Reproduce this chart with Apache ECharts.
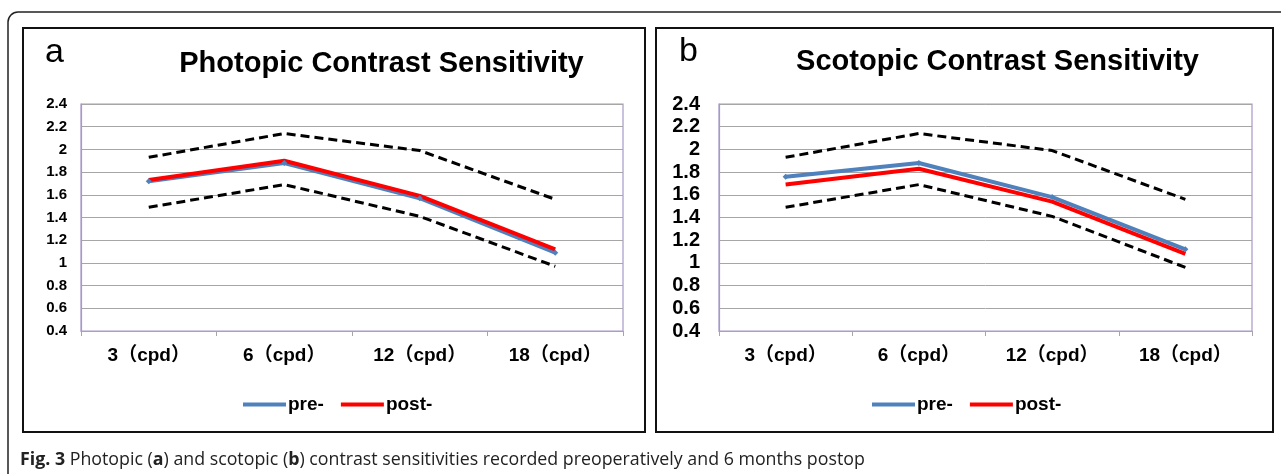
<!DOCTYPE html>
<html>
<head>
<meta charset="utf-8">
<script src="https://cdn.jsdelivr.net/npm/echarts@6/dist/echarts.min.js"></script>
<style>
html,body{margin:0;padding:0;background:#fff;}
#c{width:1281px;height:474px;}
</style>
</head>
<body>
<div id="c"></div>
<script>
var categories = ['3（cpd）', '6（cpd）', '12（cpd）', '18（cpd）'];
var yTicks = { min: 0.4, max: 2.4, step: 0.2 };

var photopicPre = [1.72, 1.88, 1.57, 1.09];
var photopicPost = [1.73, 1.90, 1.59, 1.12];
var photopicUpper = [1.93, 2.14, 1.99, 1.56];
var photopicLower = [1.49, 1.69, 1.41, 0.97];

var scotopicPre = [1.76, 1.88, 1.58, 1.12];
var scotopicPost = [1.69, 1.83, 1.54, 1.08];
var scotopicUpper = [1.93, 2.14, 1.99, 1.56];
var scotopicLower = [1.49, 1.69, 1.41, 0.96];

var titles = ['Photopic Contrast Sensitivity', 'Scotopic Contrast Sensitivity'];
var panelLetters = ['a', 'b'];
var legendNames = ['pre-', 'post-'];

var BLUE = '#4F81BD', RED = '#FF0000', PURPLE = '#A898C8', GRIDC = '#A6A6A6';
var SANS = '"Liberation Sans", Arial, "Noto Sans CJK SC", sans-serif';

function xAxisCfg(gi) {
  return {
    type: 'category', gridIndex: gi, data: categories, boundaryGap: true,
    axisLine: { show: true, lineStyle: { color: GRIDC, width: 1 } },
    axisTick: { show: true, length: 5, lineStyle: { color: GRIDC } },
    axisLabel: { margin: 15, color: '#000', fontWeight: 'bold', fontSize: 19, fontFamily: SANS }
  };
}
function yAxisCfg(gi, fs, margin) {
  return {
    type: 'value', gridIndex: gi, min: yTicks.min, max: yTicks.max, interval: yTicks.step,
    axisLine: { show: true, lineStyle: { color: PURPLE, width: 1.2 } },
    axisTick: { show: false },
    splitLine: { show: true, lineStyle: { color: GRIDC, width: 1 } },
    axisLabel: { margin: margin, color: '#000', fontWeight: 'bold', fontSize: fs, fontFamily: SANS,
      formatter: function (v) { return String(Math.round(v * 10) / 10); } }
  };
}
function dashed(name, data, gi) {
  return { name: name, type: 'line', xAxisIndex: gi, yAxisIndex: gi, data: data, symbol: 'none',
    lineStyle: { color: '#000', width: 3, type: [9, 5] }, z: 2, silent: true };
}
function solid(name, data, gi, color, sym) {
  return { name: name, type: 'line', xAxisIndex: gi, yAxisIndex: gi, data: data,
    symbol: sym ? 'diamond' : 'none', symbolSize: 6, showSymbol: !!sym,
    itemStyle: { color: color }, lineStyle: { color: color, width: 4 }, z: 3 };
}
function legendCfg(left) {
  return {
    data: legendNames, left: left, top: 390, icon: 'rect', itemWidth: 43, itemHeight: 4, itemGap: 17,
    textStyle: { color: '#000', fontWeight: 'bold', fontSize: 19, fontFamily: SANS, padding: [0, 0, 0, -3] }
  };
}

var chart = echarts.init(document.getElementById('c'), null, { renderer: 'canvas' });
chart.setOption({
  animation: false,
  backgroundColor: '#fff',
  grid: [
    { left: 81, top: 104, width: 542, height: 227, show: true, borderColor: PURPLE, borderWidth: 1.2, backgroundColor: 'transparent' },
    { left: 719, top: 104, width: 533, height: 227, show: true, borderColor: PURPLE, borderWidth: 1.2, backgroundColor: 'transparent' }
  ],
  xAxis: [xAxisCfg(0), xAxisCfg(1)],
  yAxis: [yAxisCfg(0, 15, 14), yAxisCfg(1, 20, 19)],
  legend: [legendCfg(238), legendCfg(867)],
  series: [
    dashed('upperA', photopicUpper, 0), dashed('lowerA', photopicLower, 0),
    solid(legendNames[0], photopicPre, 0, BLUE, true), solid(legendNames[1], photopicPost, 0, RED, false),
    dashed('upperB', scotopicUpper, 1), dashed('lowerB', scotopicLower, 1),
    solid(legendNames[0], scotopicPre, 1, BLUE, true), solid(legendNames[1], scotopicPost, 1, RED, false)
  ],
  graphic: [
    { type: 'rect', shape: { x: 8, y: 12, width: 1320, height: 520, r: 10 }, style: { fill: 'none', stroke: '#222', lineWidth: 1.5 }, z: 0, silent: true },
    { type: 'rect', shape: { x: 23, y: 28, width: 622, height: 404 }, style: { fill: 'none', stroke: '#111', lineWidth: 2 }, z: 0, silent: true },
    { type: 'rect', shape: { x: 656, y: 28, width: 617, height: 404 }, style: { fill: 'none', stroke: '#111', lineWidth: 2 }, z: 0, silent: true },
    { type: 'text', x: 45, y: 53, style: { text: panelLetters[0], font: 'normal 34px "Liberation Sans", Arial, sans-serif', fill: '#000', verticalAlign: 'middle' }, silent: true },
    { type: 'text', x: 679, y: 52, style: { text: panelLetters[1], font: 'normal 34px "Liberation Sans", Arial, sans-serif', fill: '#000', verticalAlign: 'middle' }, silent: true },
    { type: 'text', x: 381.5, y: 64, style: { text: titles[0], font: 'bold 29px "Liberation Sans", Arial, sans-serif', fill: '#000', align: 'center', verticalAlign: 'middle' }, silent: true },
    { type: 'text', x: 997.5, y: 62, style: { text: titles[1], font: 'bold 29px "Liberation Sans", Arial, sans-serif', fill: '#000', align: 'center', verticalAlign: 'middle' }, silent: true },
    { type: 'text', x: 20, y: 460, silent: true, style: {
        text: '{b|Fig. 3} Photopic ({b|a}) and scotopic ({b|b}) contrast sensitivities recorded preoperatively and 6 months postop',
        font: 'normal 17.8px "Open Sans", sans-serif', fill: '#222', verticalAlign: 'middle',
        rich: { b: { fontWeight: 'bold', fontFamily: '"Open Sans", sans-serif', fontSize: 17.8, fill: '#222' } } } }
  ]
});
</script>
</body>
</html>
